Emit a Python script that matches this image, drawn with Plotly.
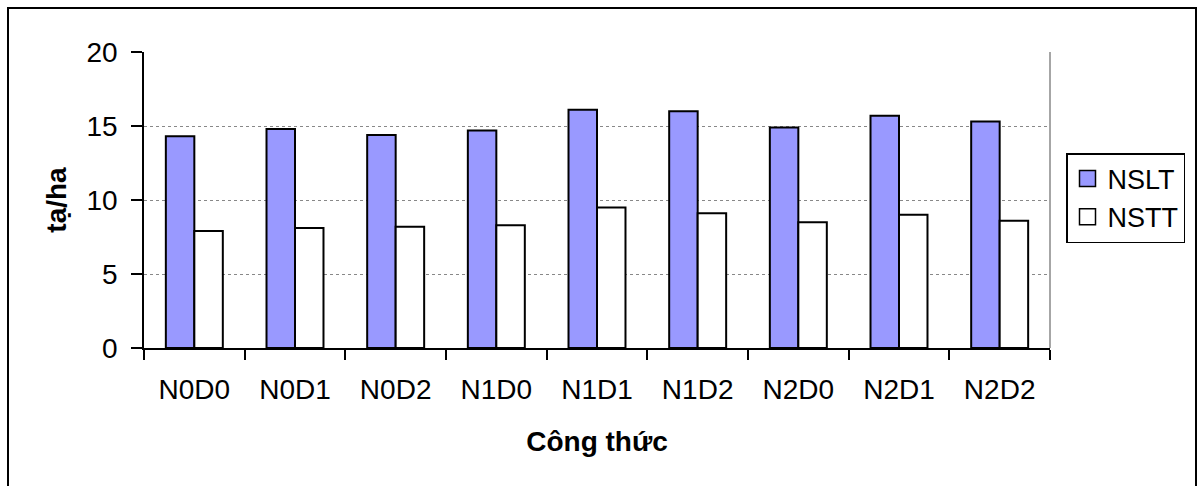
import plotly.graph_objects as go

categories = ["N0D0", "N0D1", "N0D2", "N1D0", "N1D1", "N1D2", "N2D0", "N2D1", "N2D2"]
nslt = [14.3, 14.8, 14.4, 14.7, 16.1, 16.0, 14.9, 15.7, 15.3]
nstt = [7.9, 8.1, 8.2, 8.3, 9.5, 9.1, 8.5, 9.0, 8.6]
y_ticks = [0, 5, 10, 15, 20]
series_names = ["NSLT", "NSTT"]
series_colors = ["#9999FF", "white"]

FONT = "Liberation Sans, Arial, sans-serif"
FS = 28

fig = go.Figure()
for name, vals, col in zip(series_names, [nslt, nstt], series_colors):
    fig.add_trace(go.Bar(x=categories, y=vals, name=name, showlegend=False,
                         marker=dict(color=col, line=dict(color="black", width=2))))
# legend entries with larger square swatches
for name, col in zip(series_names, series_colors):
    fig.add_trace(go.Scatter(x=[None], y=[None], name=name, mode="markers",
                             marker=dict(symbol="square", size=16, color=col,
                                         line=dict(color="black", width=1.5))))

L, R, T, B = 144, 150, 52, 138
W, H = 1200, 486
pw = W - L - R
ph = H - T - B

fig.update_layout(
    width=W, height=H,
    margin=dict(l=L, r=R, t=T, b=B, autoexpand=False),
    paper_bgcolor="white", plot_bgcolor="white",
    barmode="group", bargap=0.434, bargroupgap=0,
    font=dict(family=FONT, size=FS, color="black"),
    showlegend=True,
    legend=dict(x=(1066 - L) / pw, y=(H - B - 153) / ph, xanchor="left", yanchor="top",
                bordercolor="black", borderwidth=1.5, bgcolor="white",
                font=dict(size=27), tracegroupgap=0, itemsizing="trace", itemwidth=30),
    xaxis=dict(
        title=dict(text="<b>Công thức</b>", font=dict(size=FS), standoff=27),
        showline=True, linecolor="black", linewidth=1.5,
        ticks="outside", tickson="boundaries", ticklen=10, tickwidth=1.5, tickcolor="black",
        ticklabelstandoff=16,
        showgrid=False, tickfont=dict(size=FS),
    ),
    yaxis=dict(
        title=dict(text="<b>tạ/ha</b>", font=dict(size=FS), standoff=12),
        range=[0, 20], tickvals=y_ticks,
        showline=True, linecolor="black", linewidth=1.5,
        ticks="outside", ticklen=11, tickwidth=1.5, tickcolor="black",
        ticklabelposition="outside", ticklabelstandoff=8,
        showgrid=True, gridcolor="#888888", griddash="dot", gridwidth=1,
        zeroline=False, tickfont=dict(size=FS),
    ),
    shapes=[
        dict(type="line", xref="paper", yref="paper", x0=1, x1=1, y0=0, y1=1,
             line=dict(color="#888888", width=1.5), layer="below"),
        dict(type="rect", xref="paper", yref="paper",
             x0=(8 - L) / pw, x1=(1196 - L) / pw,
             y0=(H - B - 500) / ph, y1=(H - B - 8) / ph,
             line=dict(color="black", width=2), fillcolor="rgba(0,0,0,0)"),
    ],
)

fig.write_html("out.html")
